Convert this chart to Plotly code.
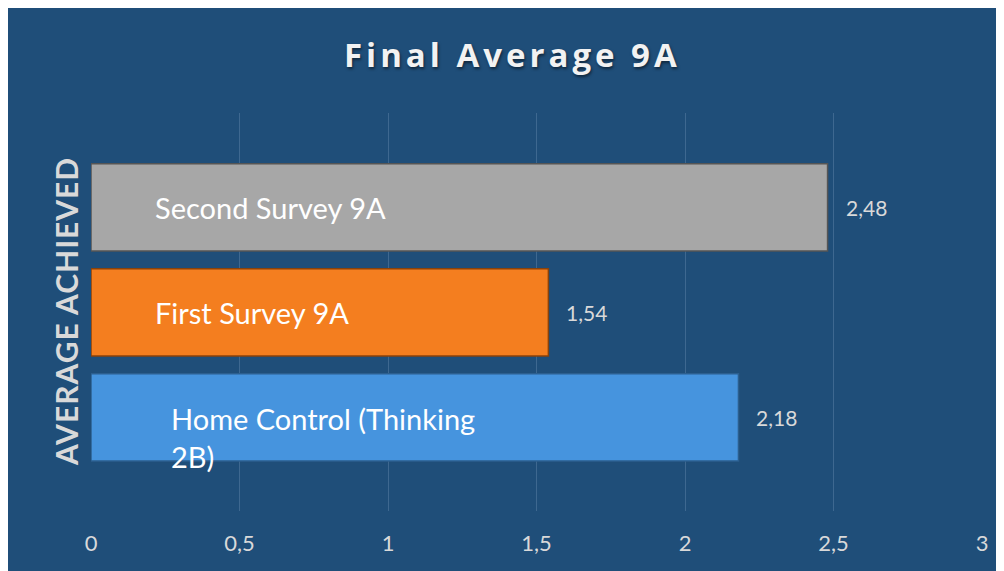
import plotly.graph_objects as go

# ---- data ----
categories = ["Home Control (Thinking 2B)", "First Survey 9A", "Second Survey 9A"]
category_labels = ["Home Control (Thinking<br>2B)", "First Survey 9A", "Second Survey 9A"]
values = [2.18, 1.54, 2.48]
bar_colors = ["#4694DE", "#F47E1F", "#A7A7A7"]
bar_edges = ["#2C5F8F", "#8A420A", "#555555"]
tick_vals = [0, 0.5, 1, 1.5, 2, 2.5, 3]
tick_text = ["0", "0,5", "1", "1,5", "2", "2,5", "3"]
title_text = "Final Average 9A"
axis_title = "AVERAGE ACHIEVED"

BG = "#1F4E79"
W, H = 1004, 571
L, R, T, B = 83, 30, 105, 68
pw, ph = W - L - R, H - T - B

fig = go.Figure()
fig.add_trace(go.Bar(
    y=categories, x=values, orientation="h",
    marker=dict(color=bar_colors, line=dict(color=bar_edges, width=1.5)),
    width=0.83, hoverinfo="x+y",
))

annotations = []
# category labels inside bars
label_x = [0.262, 0.21, 0.21]
label_shift = [-20, 0, 0]
for cat, lab, lx, ys in zip(categories, category_labels, label_x, label_shift):
    annotations.append(dict(
        x=lx, y=cat, xref="x", yref="y", text=lab, showarrow=False,
        xanchor="left", yanchor="middle", align="left", yshift=ys,
        font=dict(family="Lato", size=29, color="white"),
    ))
# value labels
for cat, v in zip(categories, values):
    annotations.append(dict(
        x=v, y=cat, xref="x", yref="y",
        text=f"{v:.2f}".replace(".", ","), showarrow=False,
        xanchor="left", yanchor="middle", xshift=16,
        font=dict(family="Lato", size=21, color="#D9D9D9"),
    ))
# axis title
annotations.append(dict(
    x=(58 - L) / pw, y=(H - B - 304) / ph, xref="paper", yref="paper",
    text='<span style="letter-spacing:1px">' + axis_title + '</span>',
    showarrow=False, textangle=-90,
    xanchor="center", yanchor="middle",
    font=dict(family="Lato", size=30, color="#D9D9D9", weight="bold"),
))
# chart title
annotations.append(dict(
    x=(504 - L) / pw, y=(H - B - 47) / ph, xref="paper", yref="paper",
    text='<span style="letter-spacing:4px">' + title_text + '</span>',
    showarrow=False, xanchor="center", yanchor="middle",
    font=dict(family="Open Sans", size=33, color="#F2F2F2", weight="bold",
              shadow="1px 2px 3px rgba(0,0,0,0.5)"),
))

fig.update_layout(
    width=W, height=H,
    margin=dict(l=L, r=R, t=T, b=B, pad=0),
    paper_bgcolor=BG, plot_bgcolor=BG,
    separators=",.",
    showlegend=False,
    annotations=annotations,
    xaxis=dict(range=[0, 3], tickvals=tick_vals, ticktext=tick_text,
               showgrid=True, gridcolor="#3E6890", gridwidth=1,
               zeroline=False, showline=False, ticks="",
               tickfont=dict(family="Lato", size=22, color="#D9D9D9"),
               ticklabelstandoff=17),
    yaxis=dict(range=[-0.892, 2.898], showticklabels=False, showgrid=False,
               zeroline=False, showline=False, ticks=""),
    bargap=0.17,
)

fig.write_html("out.html")
